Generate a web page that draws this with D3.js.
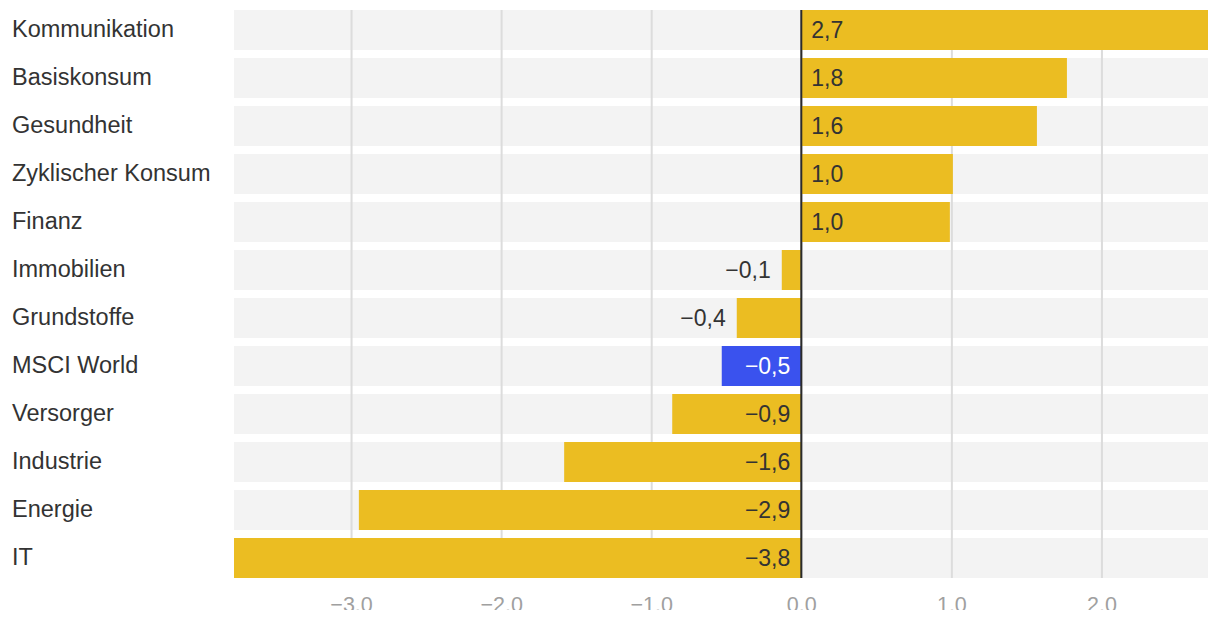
<!DOCTYPE html>
<html>
<head>
<meta charset="utf-8">
<script src="https://cdn.jsdelivr.net/npm/d3@7"></script>
<style>
  html, body { margin: 0; padding: 0; background: #fff; }
  svg { display: block; font-family: "Liberation Sans", Arial, Helvetica, sans-serif; }
</style>
</head>
<body>
<svg id="chart" width="1220" height="610"></svg>
<script>
const categories = ["Kommunikation", "Basiskonsum", "Gesundheit", "Zyklischer Konsum", "Finanz", "Immobilien", "Grundstoffe", "MSCI World", "Versorger", "Industrie", "Energie", "IT"];
const values = [2.71, 1.77, 1.57, 1.01, 0.99, -0.13, -0.43, -0.53, -0.86, -1.58, -2.948, -3.78];
const highlight = ["MSCI World"];
const tickValues = [-3, -2, -1, 0, 1, 2];

const data = categories.map((c, i) => ({ cat: c, val: values[i] }));

const svg = d3.select("#chart");
const W = 1220;
const margin = { left: 234, right: 12, top: 10 };
const plotBottom = 578;

const x = d3.scaleLinear()
  .domain([d3.min(values), d3.max(values)])
  .range([margin.left, W - margin.right]);

const y = d3.scaleBand()
  .domain(categories)
  .range([margin.top, plotBottom])
  .paddingInner(1 / 6)
  .paddingOuter(0);

const yellow = "#EBBD22";
const blue = "#3A52EE";

// background bands
svg.append("g").selectAll("rect").data(data).join("rect")
  .attr("x", x.range()[0])
  .attr("width", x.range()[1] - x.range()[0])
  .attr("y", d => y(d.cat))
  .attr("height", y.bandwidth())
  .attr("fill", "#f3f3f3");

// gridlines + axis labels
const axis = d3.axisBottom(x)
  .tickValues(tickValues)
  .tickFormat(d3.format(".1f"))
  .tickSize(-(plotBottom - margin.top))
  .tickPadding(0);

const gAxis = svg.append("g")
  .attr("transform", `translate(0,${plotBottom})`)
  .call(axis);
gAxis.select(".domain").remove();
gAxis.selectAll(".tick line")
  .attr("stroke", "#dcdcdc")
  .attr("stroke-width", 2);
gAxis.selectAll(".tick text")
  .attr("y", 33.5)
  .attr("dy", null)
  .attr("fill", "#a0a0a0")
  .attr("font-size", 21.5)
  .attr("font-family", "'Liberation Sans', Arial, sans-serif");

// bars
svg.append("g").selectAll("rect").data(data).join("rect")
  .attr("x", d => x(Math.min(0, d.val)))
  .attr("width", d => Math.abs(x(d.val) - x(0)))
  .attr("y", d => y(d.cat))
  .attr("height", y.bandwidth())
  .attr("fill", d => highlight.includes(d.cat) ? blue : yellow);

// zero line
svg.append("line")
  .attr("x1", x(0)).attr("x2", x(0))
  .attr("y1", margin.top).attr("y2", plotBottom)
  .attr("stroke", "#2b2b2b")
  .attr("stroke-width", 2);

// category labels
svg.append("g").selectAll("text").data(data).join("text")
  .attr("x", 12)
  .attr("y", d => y(d.cat) + y.bandwidth() / 2 + 6.5)
  .attr("font-size", 23.5)
  .attr("fill", "#333")
  .text(d => d.cat);

// value labels
const fmt = v => d3.format(".1f")(v).replace(".", ",");
svg.append("g").selectAll("text").data(data).join("text")
  .attr("y", d => y(d.cat) + y.bandwidth() / 2 + 7.5)
  .attr("font-size", 23)
  .each(function (d) {
    const t = d3.select(this);
    const barW = Math.abs(x(d.val) - x(0));
    if (d.val >= 0) {
      t.attr("x", x(0) + 10).attr("text-anchor", "start").attr("fill", "#333");
    } else if (barW > 70) {
      t.attr("x", x(0) - 11).attr("text-anchor", "end")
        .attr("fill", highlight.includes(d.cat) ? "#fff" : "#333");
    } else {
      t.attr("x", x(d.val) - 11).attr("text-anchor", "end").attr("fill", "#333");
    }
  })
  .text(d => fmt(d.val));
</script>
</body>
</html>
